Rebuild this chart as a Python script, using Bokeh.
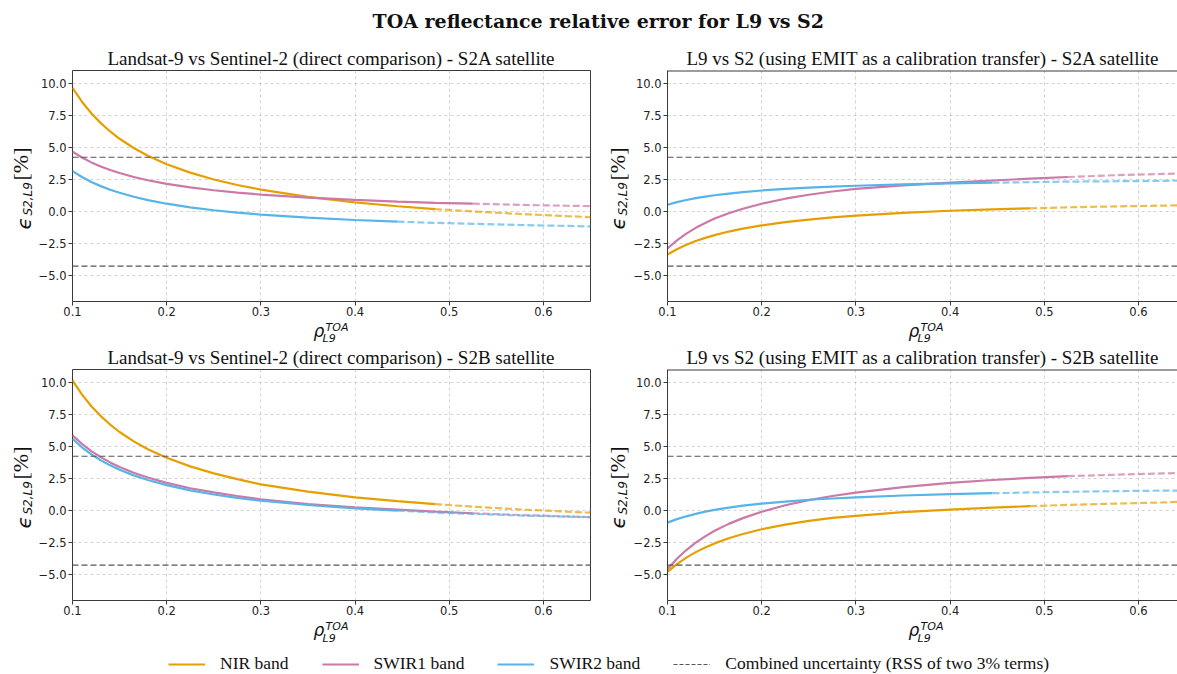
import math
from bokeh.plotting import figure
from bokeh.models import Range1d, FixedTicker, Span, Label, Legend, LegendItem
from bokeh.layouts import column, row
from bokeh.embed import file_html
from bokeh.resources import INLINE

# ---------------- data ----------------
x_rho = [0.10, 0.11, 0.12, 0.13, 0.14, 0.15, 0.165, 0.18, 0.20, 0.225, 0.25, 0.275,
         0.30, 0.35, 0.40, 0.445, 0.485, 0.525, 0.575, 0.625, 0.65]

band_names = ["NIR band", "SWIR1 band", "SWIR2 band"]
band_colors = ["#E69F00", "#CC79A7", "#56B4E9"]
solid_end = [0.485, 0.525, 0.445]   # end of the solid part of each band curve
uncertainty = 4.24                  # RSS of two 3% terms
unc_label = "Combined uncertainty (RSS of two 3% terms)"

s2a_direct_nir = [9.65, 8.57, 7.67, 6.90, 6.25, 5.68, 4.96, 4.36, 3.70, 3.04, 2.51, 2.08,
                  1.72, 1.15, 0.73, 0.42, 0.20, 0.02, -0.18, -0.35, -0.42]
s2a_direct_swir1 = [4.68, 4.22, 3.84, 3.52, 3.25, 3.01, 2.70, 2.45, 2.17, 1.89, 1.67, 1.49,
                    1.33, 1.09, 0.92, 0.79, 0.69, 0.62, 0.53, 0.46, 0.43]
s2a_direct_swir2 = [3.16, 2.70, 2.31, 1.99, 1.71, 1.47, 1.16, 0.90, 0.62, 0.34, 0.11, -0.07,
                    -0.23, -0.47, -0.65, -0.78, -0.87, -0.95, -1.04, -1.11, -1.16]

s2a_emit_nir = [-3.34, -2.93, -2.58, -2.29, -2.04, -1.83, -1.55, -1.32, -1.07, -0.82, -0.62, -0.45,
                -0.31, -0.10, 0.07, 0.18, 0.26, 0.34, 0.41, 0.47, 0.50]
s2a_emit_swir1 = [-2.87, -2.24, -1.71, -1.26, -0.88, -0.54, -0.12, 0.23, 0.62, 1.01, 1.32, 1.57,
                  1.77, 2.05, 2.26, 2.43, 2.57, 2.70, 2.84, 2.94, 2.99]
s2a_emit_swir2 = [0.54, 0.74, 0.91, 1.05, 1.17, 1.28, 1.41, 1.53, 1.65, 1.77, 1.87, 1.95,
                  2.02, 2.13, 2.21, 2.26, 2.30, 2.34, 2.37, 2.40, 2.42]

s2b_direct_nir = [10.15, 9.06, 8.14, 7.37, 6.71, 6.13, 5.40, 4.79, 4.12, 3.45, 2.91, 2.46,
                  2.05, 1.48, 1.03, 0.74, 0.51, 0.31, 0.10, -0.08, -0.16]
s2b_direct_swir1 = [5.87, 5.20, 4.64, 4.17, 3.76, 3.41, 2.96, 2.58, 2.17, 1.75, 1.42, 1.14,
                    0.88, 0.52, 0.25, 0.08, -0.07, -0.20, -0.34, -0.45, -0.50]
s2b_direct_swir2 = [5.60, 4.94, 4.39, 3.93, 3.53, 3.19, 2.75, 2.39, 1.99, 1.58, 1.26, 1.00,
                    0.78, 0.44, 0.18, 0.00, -0.14, -0.25, -0.37, -0.47, -0.51]

s2b_emit_nir = [-4.77, -4.16, -3.66, -3.23, -2.87, -2.55, -2.15, -1.82, -1.45, -1.09, -0.80, -0.56,
                -0.40, -0.12, 0.08, 0.23, 0.35, 0.45, 0.55, 0.64, 0.70]
s2b_emit_swir1 = [-4.56, -3.75, -3.07, -2.49, -2.00, -1.57, -1.03, -0.58, -0.08, 0.42, 0.82, 1.14,
                  1.41, 1.84, 2.16, 2.39, 2.55, 2.69, 2.80, 2.90, 2.94]
s2b_emit_swir2 = [-0.93, -0.66, -0.44, -0.25, -0.08, 0.06, 0.24, 0.39, 0.55, 0.71, 0.85, 0.95,
                  1.04, 1.18, 1.29, 1.36, 1.42, 1.47, 1.52, 1.56, 1.57]

main_title = "TOA reflectance relative error for L9 vs S2"
panel_titles = [
    "Landsat-9 vs Sentinel-2 (direct comparison) - S2A satellite",
    "L9 vs S2 (using EMIT as a calibration transfer) - S2A satellite",
    "Landsat-9 vs Sentinel-2 (direct comparison) - S2B satellite",
    "L9 vs S2 (using EMIT as a calibration transfer) - S2B satellite",
]
x_ticks = [0.1, 0.2, 0.3, 0.4, 0.5, 0.6]
y_ticks = [-5.0, -2.5, 0.0, 2.5, 5.0, 7.5, 10.0]
y_tick_labels = ["\u22125.0", "\u22122.5", "0.0", "2.5", "5.0", "7.5", "10.0"]

# ---------------- styling / layout ----------------
SERIF = "Liberation Serif"
SANS = "DejaVu Sans"
AX = "#3a3a3a"
TXT = "#111111"
W = 1177
FRAME_H = 231
BT, BB = 1, 19
ROW_H = BT + FRAME_H + BB
BL = 37
X0, X1_LEFT, X1_RIGHT = 0.1, 0.65, 0.6414
Y0, Y1 = -7.0, 11.0


def strip(width, height, **kw):
    opts = dict(min_border_left=0, min_border_right=0, min_border_top=0, min_border_bottom=0)
    opts.update(kw)
    f = figure(width=width, height=height, x_axis_type=None, y_axis_type=None,
               output_backend="svg", toolbar_location=None, **opts)
    fh = height - opts["min_border_top"] - opts["min_border_bottom"]
    f.x_range = Range1d(0, width)
    f.y_range = Range1d(0, fh)
    f.outline_line_color = None
    f.background_fill_alpha = 0
    f.border_fill_color = "white"
    return f


def make_panel(series, left_col):
    fw = 518 if left_col else 510
    x1 = X1_LEFT if left_col else X1_RIGHT
    br = 13 if left_col else 0
    p = figure(width=BL + fw + br, height=ROW_H,
               x_range=Range1d(X0, x1), y_range=Range1d(Y0, Y1),
               output_backend="svg", toolbar_location=None,
               min_border_left=BL, min_border_right=br,
               min_border_top=BT, min_border_bottom=BB)
    p.background_fill_color = "white"
    p.border_fill_color = "white"
    p.outline_line_color = AX if left_col else None

    p.xaxis.ticker = FixedTicker(ticks=x_ticks)
    p.yaxis.ticker = FixedTicker(ticks=y_ticks)
    p.yaxis.major_label_overrides = {t: s for t, s in zip(y_ticks, y_tick_labels)}
    for ax in (p.xaxis[0], p.yaxis[0]):
        ax.major_tick_out = 4
        ax.major_tick_in = 0
        ax.minor_tick_out = 0
        ax.minor_tick_in = 0
        ax.major_tick_line_color = AX
        ax.axis_line_color = None if left_col else AX
        ax.major_label_text_font = SANS
        ax.major_label_text_font_size = "11.5px"
        ax.major_label_text_color = "#222222"
    p.xaxis.major_label_standoff = 1
    p.yaxis.major_label_standoff = 2
    if not left_col:
        p.add_layout(Span(location=Y1, dimension="width", line_color=AX, line_width=2))

    for g in (p.xgrid[0], p.ygrid[0]):
        g.grid_line_color = "#c8c8c8"
        g.grid_line_dash = "3 3"
        g.grid_line_width = 0.8
    p.xgrid.ticker = FixedTicker(ticks=x_ticks)
    p.ygrid.ticker = FixedTicker(ticks=y_ticks)

    for u in (uncertainty, -uncertainty):
        p.add_layout(Span(location=u, dimension="width", line_color="#555555",
                          line_dash="6 3", line_width=1.2))

    for vals, color, xe in zip(series, band_colors, solid_end):
        xs_s = [x for x in x_rho if x <= xe]
        ys_s = [v for x, v in zip(x_rho, vals) if x <= xe]
        xs_d = [x for x in x_rho if x >= xe]
        ys_d = [v for x, v in zip(x_rho, vals) if x >= xe]
        p.line(xs_d, ys_d, line_color=color, line_width=2.2, line_alpha=0.7, line_dash="7 3")
        p.line(xs_s, ys_s, line_color=color, line_width=2.2)
    return p


def lab(f, x, y, text, font, size, style="normal", angle=0.0):
    f.add_layout(Label(x=x, y=y, text=text, angle=angle, text_align="left",
                       text_baseline="middle", text_font=font, text_font_style=style,
                       text_font_size=size, text_color=TXT))


def ylabel_fig(width, xs):
    # frame spans page rows 70..301; y = 301 - page_y
    f = strip(width, ROW_H, min_border_top=BT, min_border_bottom=BB)
    a = math.pi / 2
    lab(f, xs[0], 72, "\u03f5", SANS, "20px", "italic", a)
    lab(f, xs[1], 86, "S2,L9", SANS, "12px", "italic", a)
    lab(f, xs[2], 121, "[%]", SERIF, "22px", "normal", a)
    return f


def title_strip(t_left, t_right, height, yc):
    f = strip(W, height)
    for x_left, t in ((107, t_left), (686, t_right)):
        lab(f, x_left, yc, t, SERIF, "19px")
    return f


def xlabel_strip(height, yr, yt, yl):
    f = strip(W, height)
    for off in (0, 595):
        lab(f, 313 + off, yr, "\u03c1", SANS, "17px", "italic")
        lab(f, 325 + off, yt, "TOA", SANS, "11px", "italic")
        lab(f, 322 + off, yl, "L9", SANS, "11px", "italic")
    return f


tl = make_panel([s2a_direct_nir, s2a_direct_swir1, s2a_direct_swir2], True)
tr = make_panel([s2a_emit_nir, s2a_emit_swir1, s2a_emit_swir2], False)
bl = make_panel([s2b_direct_nir, s2b_direct_swir1, s2b_direct_swir2], True)
br = make_panel([s2b_emit_nir, s2b_emit_swir1, s2b_emit_swir2], False)

# main title
tf = strip(W, 46)
lab(tf, 372, 26, main_title, "DejaVu Serif", "19px", "bold")

top_titles = title_strip(panel_titles[0], panel_titles[1], 23, 10.6)   # page rows 46..69
bot_titles = title_strip(panel_titles[2], panel_titles[3], 22, 10.6)   # page rows 346..368
top_x = xlabel_strip(26, 15.9, 19.5, 7.8)                               # page rows 320..346
bot_x = xlabel_strip(26, 15.4, 19.0, 7.3)                               # page rows 619..645

# legend strip
lf = strip(W, 29)
items = []
for name, color in zip(band_names, band_colors):
    r = lf.line([-20, -10], [-20, -10], line_color=color, line_width=2.2)
    items.append(LegendItem(label=name, renderers=[r]))
ru = lf.line([-20, -10], [-20, -10], line_color="#555555", line_width=1.2, line_dash="4 2")
items.append(LegendItem(label=unc_label, renderers=[ru]))
leg = Legend(items=items, orientation="horizontal", location=(168, 0),
             glyph_width=37, glyph_height=20, label_standoff=15, spacing=33,
             padding=0, margin=0, border_line_color=None, background_fill_alpha=0,
             label_text_font=SERIF, label_text_font_size="17.5px", label_text_color=TXT)
lf.add_layout(leg)

left_lab = (23, 27, 20)      # page x 0..35
right_lab = (14, 19, 13.5)   # page x 603..630
top_row = row(ylabel_fig(35, left_lab), tl, ylabel_fig(27, right_lab), tr)
bot_row = row(ylabel_fig(35, left_lab), bl, ylabel_fig(27, right_lab), br)
layout = column(tf, top_titles, top_row, top_x, bot_titles, bot_row, bot_x, lf)
open("out.html", "w").write(file_html(layout, INLINE))
